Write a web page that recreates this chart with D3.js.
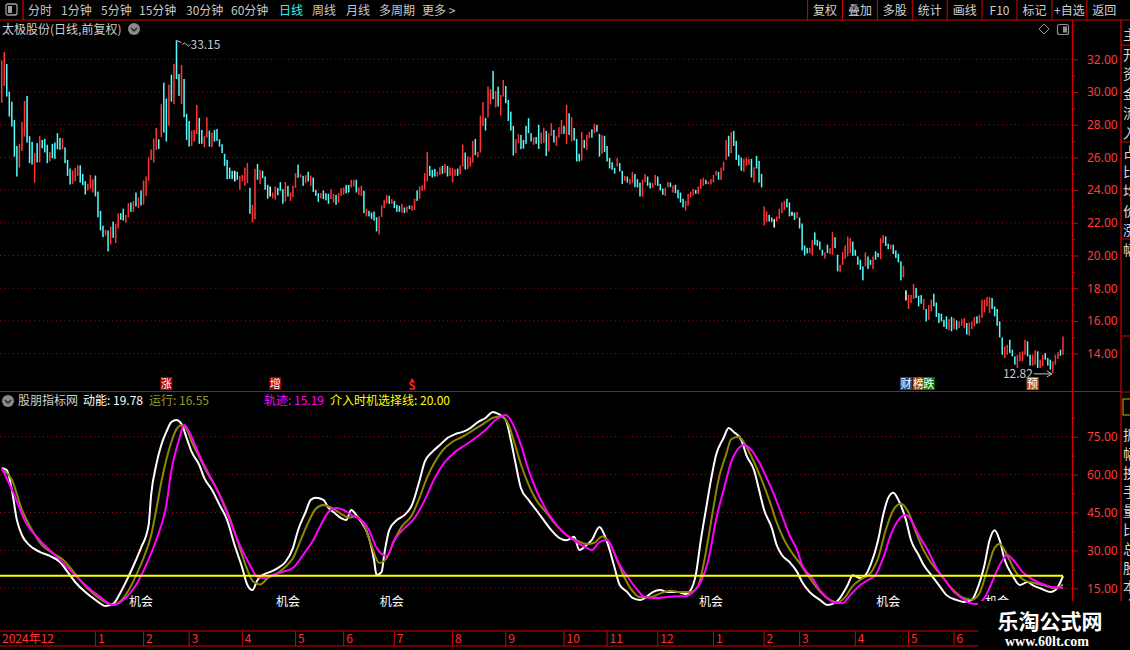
<!DOCTYPE html>
<html>
<head>
<meta charset="utf-8">
<script src="https://d3js.org/d3.v7.min.js"></script>
<style>
    body{ margin:0; background:#000; overflow:hidden; }
    svg{ display:block; font-family:"Noto Sans CJK SC","Noto Sans",sans-serif; }
</style>
</head>
<body>
<svg id="chart" width="1130" height="650"></svg>
<script>
// ---------- K线 (柱体两端: 开盘 / 收盘) ----------
const opens = [
 29.35,30.37,31.71,30.02,29.41,28.29,26.70,25.38,26.40,27.27,
 29.76,27.30,26.95,24.46,26.87,25.69,27.07,27.13,26.77,25.75,
 26.83,26.91,27.48,27.19,26.50,26.62,25.85,25.32,24.38,24.53,
 24.87,25.52,24.99,24.55,23.98,24.08,23.85,24.89,23.91,22.73,
 21.82,21.21,21.53,20.68,22.08,20.76,21.65,22.59,22.86,22.02,
 22.33,23.24,22.67,23.85,22.90,23.98,23.12,23.65,24.57,25.85,
 25.69,26.46,27.11,27.23,30.57,29.60,27.93,31.06,29.25,33.15,
 31.10,29.27,30.80,28.66,28.23,26.70,26.97,27.42,28.42,27.68,
 26.62,27.21,27.64,26.62,27.68,27.74,27.11,26.81,26.22,25.85,
 25.38,25.18,25.18,25.12,24.02,24.53,24.26,24.42,24.14,22.02,
 22.22,25.60,24.38,25.18,24.83,24.32,24.22,23.49,23.41,24.14,
 24.49,24.06,23.30,24.26,23.34,23.57,24.14,25.56,24.77,24.87,
 24.42,25.12,24.26,24.77,24.02,23.81,23.49,23.98,23.81,23.77,
 23.45,23.24,23.71,23.24,23.65,23.71,24.32,24.32,24.16,24.22,
 24.63,23.71,23.65,23.96,22.39,22.73,22.63,22.69,22.33,21.29,
 22.35,22.90,23.20,23.65,23.16,23.34,23.10,23.04,22.63,22.94,
 22.63,23.06,22.75,22.79,23.98,23.47,23.96,24.02,24.53,25.48,
 25.24,25.30,24.83,24.93,25.48,25.04,25.48,24.87,24.46,24.87,
 25.32,24.97,25.44,26.30,25.28,25.44,25.69,27.13,26.01,26.30,
 27.91,28.42,28.44,29.25,31.29,29.05,30.33,28.56,29.72,30.37,
 29.52,28.80,27.93,26.26,26.87,27.38,27.07,27.93,28.40,27.48,
 26.77,27.25,27.99,26.83,26.87,27.62,26.36,27.32,27.68,26.70,
 27.21,27.42,27.93,26.83,28.70,26.97,27.80,27.13,26.22,25.81,
 27.07,26.46,27.17,27.72,27.48,27.99,27.44,26.22,27.32,26.70,
 25.97,25.71,25.36,25.44,25.65,25.18,24.57,24.83,24.34,24.42,
 24.99,24.67,24.46,23.61,24.48,24.83,24.46,24.14,24.30,24.83,
 24.38,24.10,23.65,24.16,24.46,23.85,24.32,24.02,23.85,23.47,
 22.75,23.06,23.55,23.67,24.02,23.77,24.08,24.26,24.63,24.36,
 24.34,24.46,24.89,25.12,24.63,25.18,25.85,27.32,26.26,27.62,
 27.01,26.15,25.99,25.12,25.48,25.54,25.91,24.46,26.09,25.79,
 24.99,21.84,22.04,22.49,22.33,22.22,22.08,22.24,22.59,22.79,
 23.47,23.24,22.67,22.63,22.29,22.33,21.96,20.61,20.47,20.13,
 20.00,21.41,20.96,20.86,20.35,19.82,20.66,20.09,20.05,21.12,
 20.05,18.97,19.43,19.80,19.94,20.15,20.86,20.35,19.94,19.74,
 19.33,19.33,19.94,19.74,19.17,20.25,20.15,19.78,20.76,21.16,
 20.72,20.39,20.66,20.31,20.11,19.64,18.66,17.87,16.73,17.09,
 17.34,18.01,17.54,17.58,16.68,16.73,16.07,16.58,17.66,17.13,
 16.48,16.44,16.07,16.28,15.42,16.24,15.50,16.03,15.56,15.70,
 15.56,15.87,15.10,15.50,15.67,16.28,15.87,16.18,16.52,16.89,
 16.48,17.40,16.89,16.73,15.97,14.99,13.73,13.93,14.85,14.24,
 13.83,13.12,13.53,13.53,13.93,14.75,13.93,13.26,13.32,14.14,
 13.12,13.22,14.04,13.73,13.63,12.82,13.32,13.67,14.24,13.93
];
const closes = [
 31.92,32.45,29.72,28.50,27.89,26.05,24.83,26.83,28.17,29.45,
 26.91,25.65,25.56,26.26,25.69,27.30,26.56,26.30,25.65,26.34,
 25.95,25.91,26.50,26.46,27.17,25.65,24.87,24.34,25.20,25.36,
 25.52,24.46,24.30,23.73,24.38,24.93,24.67,23.61,22.33,21.53,
 21.12,21.57,20.25,21.77,21.08,21.94,22.59,22.18,22.14,22.49,
 23.20,22.67,23.34,23.00,23.55,23.06,24.59,24.83,26.01,26.50,
 27.15,27.80,26.52,29.25,27.52,26.97,30.45,29.41,31.71,30.80,
 29.76,31.65,28.46,27.07,26.66,27.64,27.68,29.21,26.83,26.83,
 27.30,28.46,26.66,27.52,26.97,27.01,26.66,26.26,25.48,24.67,
 24.69,24.67,24.53,24.63,24.87,24.93,25.38,25.67,22.55,23.10,
 25.30,24.63,25.24,24.73,24.02,23.47,23.61,23.85,24.22,23.69,
 23.96,23.16,24.49,23.61,23.85,24.28,25.04,24.75,24.97,24.26,
 24.91,24.53,24.89,23.89,23.65,23.28,23.81,23.45,23.37,23.16,
 24.06,23.77,23.10,23.81,24.12,24.16,23.81,23.85,24.63,24.63,
 23.85,24.16,24.26,22.59,22.86,22.39,22.24,22.14,21.47,22.39,
 23.06,23.41,23.71,23.16,23.45,22.90,22.67,22.67,23.16,22.59,
 23.00,22.84,23.06,23.47,23.34,24.22,24.30,25.04,26.34,24.87,
 24.77,24.83,25.12,25.40,24.99,25.60,24.83,25.38,25.34,25.28,
 24.87,25.52,26.79,25.26,26.07,26.01,27.01,26.13,26.34,28.56,
 29.39,27.64,30.33,30.18,29.56,30.06,29.11,29.82,30.74,29.31,
 28.23,27.64,26.11,27.11,27.42,26.50,26.54,26.83,27.48,26.97,
 27.23,26.83,26.52,27.52,27.82,26.09,27.48,28.09,26.91,27.32,
 27.85,28.29,27.44,29.21,27.38,28.46,27.03,25.75,25.75,27.56,
 26.56,27.38,27.56,27.21,28.05,27.56,26.05,27.36,26.32,25.75,
 25.32,25.24,25.01,25.97,25.14,24.38,24.87,24.46,24.69,25.12,
 24.18,24.16,23.61,24.63,24.99,24.26,24.10,24.42,24.93,24.26,
 23.98,23.71,24.14,24.51,24.18,24.28,23.81,23.49,23.24,22.94,
 23.34,23.77,23.91,24.08,23.77,24.22,24.67,24.75,24.36,24.53,
 24.67,24.93,25.18,24.63,25.38,25.73,27.07,26.05,27.56,26.70,
 25.85,25.48,25.18,25.91,25.99,25.91,24.77,25.40,25.32,24.46,
 24.16,23.00,22.69,22.08,22.06,21.71,22.39,22.86,23.24,23.34,
 22.94,22.39,22.43,22.18,22.67,21.65,20.31,20.00,20.13,20.47,
 20.96,20.65,20.59,20.35,20.00,20.19,20.15,20.45,21.43,20.45,
 19.03,19.43,20.23,20.61,21.16,21.06,19.98,19.98,19.43,19.13,
 18.48,20.19,19.17,19.43,19.94,19.74,19.90,21.06,21.25,20.59,
 20.39,20.66,20.09,19.84,19.58,18.48,19.37,17.25,17.60,17.60,
 18.25,17.40,16.89,17.05,17.34,15.97,16.97,17.30,16.89,16.24,
 15.87,15.97,15.63,15.50,16.11,15.36,16.17,15.46,15.97,16.11,
 16.17,15.16,15.91,15.97,16.24,15.83,16.38,17.30,17.30,17.46,
 17.46,16.73,16.28,15.70,14.99,13.93,14.44,14.54,14.04,13.83,
 13.32,13.93,14.08,14.14,14.85,13.83,13.26,13.93,14.20,13.12,
 13.63,13.93,13.63,13.26,13.02,13.53,13.93,14.08,13.87,15.05
];
const flatDays = [92, 106, 305, 312, 357];   // 平盘(白色)

const priceTicks = [14,16,18,20,22,24,26,28,30,32];
const priceMinor = [15,17,19,21,23,25,27,29,31];
const indTicks = [15,30,45,60,75];
const indMinor = [22.5,37.5,52.5,67.5,82.5];

const monthDays   = [0,37,56,74,95,116,135,155,178,199,222,239,259,281,301,315,337,358,376];
const monthLabels = ['2024年12','1','2','3','4','5','6','7','8','9','10','11','12','1','2','3','4','5','6'];

// ---------- 股朋指标 ----------
const energyDays = [
 0,2,4,6,8,11,15,19,23,26, 29,33,37,41,44,47,50,53,55,58,
 59,61,63,65,67,69,71,73,75,78, 80,83,86,89,92,95,97,99,101,103,
 106,109,112,115,117,120,122,124,127,129, 131,134,136,138,140,142,145,147,148,150,
 151,153,156,159,162,165,167,170,173,176, 179,182,185,188,191,194,196,199,201,203,
 205,208,211,214,217,220,223,226,228,231, 233,236,238,240,242,244,247,249,252,254,
 257,260,263,267,270,272,274,276,278,280, 282,285,287,289,292,294,297,299,301,304,
 306,308,311,314,316,319,323,326,329,331, 334,336,339,341,343,346,348,350,352,354,
 357,359,362,364,367,370,373,377,380,383, 385,388,390,392,394,396,399,402,405,407,
 410,414,416,418,419
];
const energy = [
 62.6,61.8,54,42,36,32,29.4,27.8,25.4,21.5, 17.5,13.5,10.4,8,8.8,13.5,19.5,26.2,31,40,
 52,63.8,71.7,76.9,80.8,81.6,80,74.5,69,63.8, 58.6,54,48,42,32,23,16.3,14.3,18.3,20.2,
 21.5,23,25.4,31,38,45.2,50,50.8,50,46.8, 45.2,42.8,42,46,44,41.2,35,26.2,20.2,21.5,
 28.2,38,42,44,48,57.8,65,69,71.7,74.5, 76,76.9,78.4,80.8,82.4,84.8,84,81.6,73.7,63.8,
 54.6,50,46,42,38,35,34,35.4,30.2,32.2, 34.2,39.3,36,30.2,23,16.3,13.5,11.2,10.4,11.2,
 13.5,14.3,13.5,13.5,12.7,14.3,20.2,34,46,57.8, 67.7,74.5,78.4,76.9,73.7,67.7,61.8,54,46,39,
 32,28.2,25.4,21.5,17.5,13.5,10.4,8.4,9.2,11.2, 16.3,20.2,19,20.2,24.2,34,44,50.8,52.8,50,
 42,34,28.2,24.2,20.2,16.3,12.3,10.4,9.6,10.4, 14.3,24.2,34,38,34,26.2,20.2,16.3,17.5,16.3,
 15,13.5,14.3,17.5,19.78
];
const runDays = [
 0,4,8,12,16,20,24,28,32,36, 40,44,47,50,53,56,59,61,63,65,
 67,69,71,73,75,78,81,84,87,90, 93,96,99,102,105,109,112,115,118,121,
 124,127,130,134,137,140,143,146,149,152, 155,158,162,165,168,171,174,178,182,186,
 190,194,197,200,202,205,208,211,215,219, 223,227,231,234,237,240,243,246,249,252,
 256,260,264,268,272,275,277,279,281,283, 286,288,291,294,297,300,303,306,309,312,
 315,318,322,326,330,333,336,340,343,346, 349,352,355,358,361,364,367,371,375,379,
 383,386,389,392,394,397,400,404,408,412, 416,419
];
const run = [
 62,58,46,38,32,29,26.5,22,17,13, 10,8.5,10,14,20,27,36,46,57,66,
 73,78,79.5,78,73,67,61,56,50,43, 34,25,18,16.5,19,21,23.5,27,34,41,
 46.5,48,47,44.5,43,43.5,40,32,25,27, 34,39.5,44,51,59,65,69.5,73,75,77.5,
 80,82.5,83,80,74,64,56,50,45,40, 36,34,32.5,33,35.5,33,26,19,14,11.5,
 11.5,13,14,13.5,13.5,16,24,35,47,58, 68,74,75,71,65,58,50,41,34,29,
 25,20.5,15,11,9.5,11.5,16,19,21,27, 38,46,48.5,45,37,30,25,20,15,11.5,
 10.5,13,22,31,32.5,28,22,18,17,16, 15,16.55
];
const trackDays = [
 0,5,9,15,21,27,33,39,44,49, 53,57,61,65,67,70,72,74,78,82,
 86,90,94,98,101,104,107,111,115,119, 123,126,129,132,135,138,142,145,148,152,
 155,159,163,167,171,175,179,183,187,191, 195,199,202,205,208,211,215,219,223,227,
 231,233,236,239,241,244,248,251,254,258, 262,266,270,273,276,279,282,285,288,291,
 293,296,299,302,305,308,311,314,316,320, 323,326,329,332,335,339,342,345,348,351,
 354,357,359,362,366,369,373,376,379,382, 385,388,391,394,397,400,403,406,409,412,
 415,419
];
const track = [
 62.6,51.9,42,34.1,28.2,22.2,16.3,11.5,8.4,11.2, 16.3,24.2,34.1,48,61.8,73.7,79.6,76.9,67.8,59.8,
 51.9,42,32.1,24.2,19.5,19.1,20.3,21.5,23.1,28.2, 34.1,40.1,45.2,46.8,46,44,42,38.1,31,27.8,
 34.1,38.8,42.8,49.9,58.7,65,69,71.7,74.5,77.7, 81.6,83.6,79.6,71.7,61.8,53.9,46,40.1,36.1,33.3,
 31,30.2,33.3,34.1,31,24.2,18.3,14.3,11.5,11.2, 11.5,11.9,11.9,13.5,17.5,26.2,42,53.9,65,70.5,
 71.7,69.7,65,58.7,51.9,44,36.1,30.2,24.2,19.1, 14.3,11.2,9.2,9.2,12.3,16.3,18.3,20.3,27,36.1,
 42,44,42,36.1,29.4,23.1,17.5,13.5,11.2,9.2, 8.8,11.2,17.5,24.2,28.2,25.4,21.5,19.1,17.5,16.3,
 15.4,15.19
];
const entryLevel = 20;
const chanceDays = [55, 113, 154, 280, 350, 393];

// 事件标记
const eventDays  = [65, 108, 162, 357, 362, 366, 407];
const eventTexts = ['涨','增','S','财','榜','跌','预'];
const eventFill  = {'涨':'#a80000','增':'#a80000','S':'none','财':'#1c4a8c','榜':'#a04a00','跌':'#0a7a0a','预':'#c4520e'};

const toolItems = ['分时','1分钟','5分钟','15分钟','30分钟','60分钟','日线','周线','月线','多周期','更多 >'];
const toolX     = [28,61,101,139,186,231,279,312,346,379,422];
const btnItems  = ['复权','叠加','多股','统计','画线','F10','标记','+自选','返回'];

// ---------- 画布 ----------
const svg = d3.select('#chart');
svg.append('rect').attr('width',1130).attr('height',650).attr('fill','#000');

const x  = d3.scaleLinear().domain([0, opens.length - 1]).range([1.7, 1063]);
const yP = d3.scaleLinear().domain([14, 32]).range([353.6, 59.3]);
const yI = d3.scaleLinear().domain([15, 75]).range([588.3, 436.7]);
const RED = '#d40000';

// 网格虚线
const grid = svg.append('g').attr('stroke','#a01212').attr('stroke-dasharray','1,3.3');
grid.selectAll('.gp').data(priceTicks).join('line').attr('class','gp')
    .attr('x1',0).attr('x2',1072).attr('y1',d=>yP(d)).attr('y2',d=>yP(d));
grid.selectAll('.gi').data(indTicks).join('line').attr('class','gi')
    .attr('x1',0).attr('x2',1072).attr('y1',d=>yI(d)).attr('y2',d=>yI(d));

// K线
svg.append('g').selectAll('rect').data(opens).join('rect')
    .attr('x',(d,i)=>x(i)-0.75).attr('width',1.5)
    .attr('y',(d,i)=>yP(Math.max(d,closes[i])))
    .attr('height',(d,i)=>Math.max(1,Math.abs(yP(d)-yP(closes[i]))))
    .attr('fill',(d,i)=> flatDays.includes(i) ? '#ffffff' : (closes[i] > d ? '#ff3535' : '#54fcfc'));

// 最高 / 最低标注
const hiIdx = d3.maxIndex(opens.map((d,i)=>Math.max(d,closes[i])));
const loIdx = d3.minIndex(opens.map((d,i)=>Math.min(d,closes[i])));
const hiVal = Math.max(opens[hiIdx],closes[hiIdx]);
const loVal = Math.min(opens[loIdx],closes[loIdx]);
svg.append('path')
    .attr('d',`M${x(hiIdx)},${yP(hiVal)} l5,2 M${x(hiIdx)+6},${yP(hiVal)+4} q2,-3 4,0 t4,0`)
    .attr('stroke','#c8c8c8').attr('fill','none');
svg.append('text').attr('x',x(hiIdx)+14).attr('y',yP(hiVal)+9)
    .attr('fill','#c8c8c8').attr('font-size',12).text(hiVal.toFixed(2));
svg.append('text').attr('x',x(loIdx)-20).attr('y',yP(loVal)+5).attr('text-anchor','end')
    .attr('fill','#c8c8c8').attr('font-size',12).text(loVal.toFixed(2));
svg.append('path')
    .attr('d',`M${x(loIdx)-19},${yP(loVal)+1} H${x(loIdx)-1} m-5,-3 l5,3 l-5,3`)
    .attr('stroke','#c8c8c8').attr('fill','none');

// 事件标记
const ev = svg.append('g');
eventDays.forEach((d,k)=>{
    const t = eventTexts[k], cx = x(d);
    if (eventFill[t] !== 'none') {
        ev.append('rect').attr('x',cx-6).attr('y',377).attr('width',12).attr('height',13).attr('fill',eventFill[t]);
        ev.append('text').attr('x',cx).attr('y',388).attr('text-anchor','middle')
          .attr('fill','#fff').attr('font-size',11).text(t);
    } else {
        ev.append('path').attr('d',`M${cx-2},381 l2,-3 l2,3z`).attr('fill','#ff2020');
        ev.append('text').attr('x',cx).attr('y',390).attr('text-anchor','middle')
          .attr('fill','#ff2020').attr('font-size',11).attr('font-weight','bold').text(t);
    }
});

// 指标线
const lineOf = (days, vals) => d3.line().curve(d3.curveMonotoneX)
    .x((d,i)=>x(days[i])).y(d=>yI(d))(vals);
svg.append('path').attr('d',lineOf(energyDays,energy)).attr('fill','none').attr('stroke','#ffffff').attr('stroke-width',2);
svg.append('path').attr('d',lineOf(runDays,run)).attr('fill','none').attr('stroke','#8a8a00').attr('stroke-width',2);
svg.append('path').attr('d',lineOf(trackDays,track)).attr('fill','none').attr('stroke','#ff00ff').attr('stroke-width',2);
svg.append('line').attr('x1',0).attr('x2',x(opens.length-1))
    .attr('y1',yI(entryLevel)).attr('y2',yI(entryLevel)).attr('stroke','#ffff00').attr('stroke-width',2);

svg.append('g').selectAll('text').data(chanceDays).join('text')
    .attr('x',d=>x(d)).attr('y',yI(8)).attr('text-anchor','middle')
    .attr('fill','#fff').attr('font-size',12).text('机会');

// 右侧坐标轴
function rightAxis(scale, major, minor) {
    const g = svg.append('g').attr('transform','translate(1072,0)');
    g.call(d3.axisRight(scale).tickValues(major).tickSize(6).tickSizeOuter(0)
        .tickPadding(9).tickFormat(d3.format('.2f')));
    g.append('g').call(d3.axisRight(scale).tickValues(minor).tickSize(3).tickSizeOuter(0).tickFormat(''));
    g.selectAll('.domain').remove();
    g.selectAll('line').attr('stroke',RED);
    g.selectAll('text').attr('fill','#ff3a3a').attr('font-size',12)
        .attr('font-family','"Noto Sans","DejaVu Sans",sans-serif');
}
rightAxis(yP, priceTicks, priceMinor);
rightAxis(yI, indTicks, indMinor);

// 面板边框
const frame = svg.append('g').attr('stroke',RED).attr('stroke-width',1.2);
frame.append('line').attr('x1',0).attr('x2',1130).attr('y1',20).attr('y2',20);
frame.append('line').attr('x1',0).attr('x2',1121).attr('y1',391.5).attr('y2',391.5);
frame.append('line').attr('x1',1072.5).attr('x2',1072.5).attr('y1',20).attr('y2',646);
frame.append('line').attr('x1',1121).attr('x2',1121).attr('y1',20).attr('y2',650);
frame.append('line').attr('x1',0).attr('x2',1072).attr('y1',631).attr('y2',631);
frame.append('line').attr('x1',0).attr('x2',1072).attr('y1',646).attr('y2',646);
frame.append('line').attr('x1',23).attr('x2',23).attr('y1',0).attr('y2',20);

// 日期轴
const dx = svg.append('g');
dx.selectAll('line').data(monthDays.slice(1)).join('line')
    .attr('x1',d=>x(d)).attr('x2',d=>x(d)).attr('y1',631).attr('y2',646).attr('stroke',RED);
dx.selectAll('text').data(monthDays).join('text')
    .attr('x',(d,i)=> i===0 ? 2 : x(d)+2.5).attr('y',643)
    .attr('fill','#ff3030').attr('font-size',12).text((d,i)=>monthLabels[i]);

// 工具栏
const tb = svg.append('g').attr('font-size',12);
tb.append('rect').attr('x',6).attr('y',4).attr('width',11).attr('height',11).attr('rx',2)
    .attr('fill','none').attr('stroke','#a0a0a0').attr('stroke-width',1.3);
tb.append('rect').attr('x',8).attr('y',6).attr('width',4).attr('height',7).attr('fill','#a0a0a0');
tb.selectAll('.ti').data(toolItems).join('text').attr('class','ti')
    .attr('x',(d,i)=>toolX[i]).attr('y',15)
    .attr('fill',d=> d==='日线' ? '#3cf0ff' : '#c8c8c8').text(d=>d);
const btnW = 34.9, btn0 = 807.6;
tb.selectAll('.bs').data(d3.range(btnItems.length)).join('line').attr('class','bs')
    .attr('x1',i=>btn0+i*btnW).attr('x2',i=>btn0+i*btnW).attr('y1',0).attr('y2',20).attr('stroke',RED);
tb.selectAll('.bt').data(btnItems).join('text').attr('class','bt')
    .attr('x',(d,i)=>btn0+i*btnW+btnW/2).attr('y',15).attr('text-anchor','middle')
    .attr('fill','#d0d0d0').text(d=>d);

// 标题行
svg.append('text').attr('x',2).attr('y',34).attr('fill','#d0d0d0').attr('font-size',12).text('太极股份(日线,前复权)');
function chevron(cx, cy) {
    svg.append('circle').attr('cx',cx).attr('cy',cy).attr('r',6).attr('fill','#8a8a8a');
    svg.append('path').attr('d',`M${cx-3},${cy-1} l3,3 l3,-3`).attr('stroke','#222').attr('stroke-width',1.4).attr('fill','none');
}
chevron(134, 29);
svg.append('path').attr('d','M1044,24 l5,5 l-5,5 l-5,-5z').attr('fill','none').attr('stroke','#909090');
svg.append('rect').attr('x',1057.5).attr('y',24.5).attr('width',11).attr('height',10).attr('rx',2)
    .attr('fill','none').attr('stroke','#909090').attr('stroke-width',1.2);
svg.append('rect').attr('x',1063).attr('y',26.5).attr('width',4).attr('height',6).attr('fill','#909090');

// 指标标题
chevron(8, 401);
const hd = svg.append('g').attr('font-size',12);
[['股朋指标网','#d0d0d0',18],['动能: 19.78','#ffffff',83],['运行: 16.55','#9a9a22',149],
 ['轨迹: 15.19','#ff00ff',264],['介入时机选择线: 20.00','#ffff00',330]]
 .forEach(([t,c,px])=> hd.append('text').attr('x',px).attr('y',405).attr('fill',c).text(t));

// 右侧边栏(被截断)
const side = svg.append('g');
side.append('clipPath').attr('id','sideclip').append('rect').attr('x',1121.6).attr('y',20).attr('width',9).attr('height',630);
const sg = side.append('g').attr('clip-path','url(#sideclip)');
[45,142,239,336,392].forEach(v=> sg.append('line').attr('x1',1121).attr('x2',1130).attr('y1',v).attr('y2',v).attr('stroke',RED));
sg.append('rect').attr('x',1123).attr('y',399).attr('width',10).attr('height',16).attr('fill','none').attr('stroke','#c8b400');
const sideChars = ['主','开','资','金','流','入','占','比','均','价','涨','幅','振','幅','换','手','量','比','总','股','本','市','值'];
sg.selectAll('text').data(sideChars).join('text')
    .attr('x',1123).attr('y',(d,i)=> i < 12 ? 40 + i*19.5 : 440 + (i-12)*19)
    .attr('fill','#d8d8d8').attr('font-size',14).text(d=>d);

// 水印
svg.append('rect').attr('x',978).attr('y',601).attr('width',152).attr('height',49).attr('fill','#000');
svg.append('text').attr('x',1050).attr('y',629).attr('text-anchor','middle').attr('fill','#fff')
    .attr('font-size',21).attr('font-weight','bold').text('乐淘公式网');
svg.append('text').attr('x',1047).attr('y',646).attr('text-anchor','middle').attr('fill','#fff')
    .attr('font-size',14).attr('font-weight','bold').attr('font-family','"Liberation Serif","DejaVu Serif",serif')
    .text('www.60lt.com');
</script>
</body>
</html>
